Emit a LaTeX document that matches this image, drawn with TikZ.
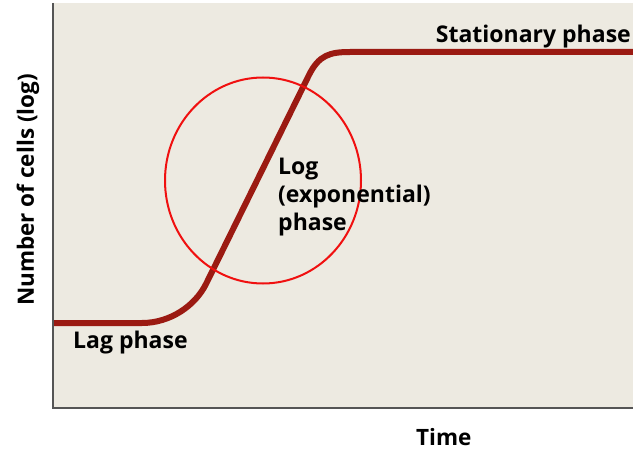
\documentclass[tikz,border=0pt]{standalone}
\usepackage{fontspec}
\setsansfont{Open Sans}
\usepackage{tikz}
\usetikzlibrary{positioning,calc}
\definecolor{plotBg}{HTML}{EDEAE1}
\definecolor{curveRed}{HTML}{9B1A12}
\definecolor{axisGray}{HTML}{555555}
\definecolor{ringRed}{HTML}{F01010}

\begin{document}
\begin{tikzpicture}[x=1pt,y=-1pt,
    phaselbl/.style={font=\fontsize{23}{28}\selectfont\sffamily\bfseries,
                     inner sep=0pt,text=black},
    axislbl/.style={font=\fontsize{22.5}{26}\selectfont\sffamily\bfseries,
                    inner sep=0pt,text=black},
    growth/.style={line width=6pt,draw=curveRed,line cap=butt},
    axisline/.style={line width=1.6pt,draw=axisGray},
    ring/.style={draw=ringRed,line width=2pt}
  ]
  \useasboundingbox (0,0) rectangle (633,452);
  % Plot area
  \fill[plotBg] (53,3) rectangle (633,408);
  \coordinate (top) at (53,3);
  \coordinate (origin) at (53,408);
  \coordinate (right) at (633,408);
  \draw[axisline] (top) -- (origin) -- (right);
  % Growth curve
  \coordinate (lagA) at (54,323);
  \coordinate (lagB) at (142,323);
  \coordinate (logA) at (206,284);
  \coordinate (logB) at (309,75);
  \coordinate (statA) at (350,52);
  \coordinate (statB) at (633,52);
  \draw[growth] (lagA) -- (lagB)
    .. controls (170,323) and (195,306) .. (logA) -- (logB)
    .. controls (319,55) and (330,52) .. (statA) -- (statB);
  % Circle round the log phase
  \draw[ring] (263,180.5) ellipse [x radius=98,y radius=103];
  % Labels
  \node[phaselbl,anchor=base east] (stat) at (631,43) {Stationary phase};
  \node[phaselbl,anchor=base west] (lag) at (73,348) {Lag phase};
  \node[phaselbl,anchor=north west,align=left] (log) at (278,158)
    {Log\\(exponential)\\phase};
  % Axis labels
  \node[axislbl,anchor=base west] (time) at (416,445) {Time};
  \node[axislbl,rotate=90] (cells) at (28,190) {Number of cells (log)};
\end{tikzpicture}
\end{document}
